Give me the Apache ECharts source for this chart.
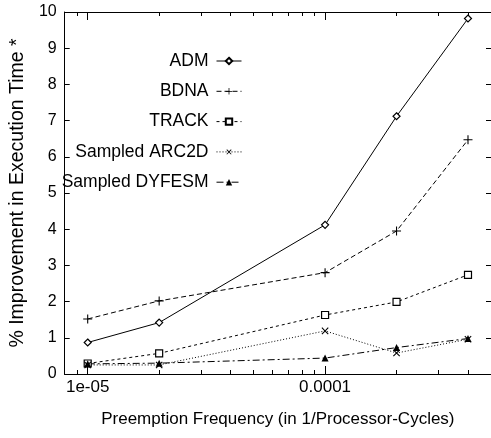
<!DOCTYPE html>
<html>
<head>
<meta charset="utf-8">
<script src="https://cdn.jsdelivr.net/npm/echarts@6/dist/echarts.min.js"></script>
<style>html,body{margin:0;padding:0;background:#fff}#c{width:491px;height:438px}</style>
</head>
<body>
<div id="c"></div>
<script>
const xValues = [1e-5, 2e-5, 1e-4, 2e-4, 4e-4];
const seriesNames = ['ADM', 'BDNA', 'TRACK', 'Sampled ARC2D', 'Sampled DYFESM'];
const admValues = [0.87, 1.42, 4.12, 7.12, 9.82];
const bdnaValues = [1.52, 2.02, 2.80, 3.95, 6.47];
const trackValues = [0.29, 0.57, 1.63, 1.99, 2.74];
const arc2dValues = [0.25, 0.25, 1.19, 0.58, 0.96];
const dyfesmValues = [0.28, 0.30, 0.44, 0.73, 0.98];
const xMajorTicks = [1e-5, 1e-4];
const xTickLabels = ['1e-05', '0.0001'];
const xMinorTicks = [9e-6, 2e-5, 3e-5, 4e-5, 5e-5, 6e-5, 7e-5, 8e-5, 9e-5, 2e-4, 3e-4, 4e-4, 5e-4];
const yTicks = [0, 1, 2, 3, 4, 5, 6, 7, 8, 9, 10];

const FONT = "'Liberation Sans', Arial, Helvetica, sans-serif";
const plusPath = 'path://M4.4,0h1.2v4.4h4.4v1.2h-4.4v4.4h-1.2v-4.4h-4.4v-1.2h4.4z';

function pairs(vals) { return xValues.map((x, i) => [x, vals[i]]); }

const chart = echarts.init(document.getElementById('c'), null, {renderer: 'canvas'});

function xAxisDef(pos, ticks, len, labels) {
  return {
    type: 'log', logBase: 10, position: pos,
    min: 8e-6, max: 5e-4,
    axisLine: {show: true, onZero: false, lineStyle: {color: '#000', width: 1}},
    axisTick: {show: true, inside: true, length: len, customValues: ticks, lineStyle: {color: '#000', width: 1}},
    axisLabel: labels ? {
      show: true, customValues: xMajorTicks, margin: 5, color: '#000', fontSize: 17, fontFamily: FONT,
      formatter: v => { const i = xMajorTicks.findIndex(t => Math.abs(t - v) / t < 1e-6); return i >= 0 ? xTickLabels[i] : ''; }
    } : {show: false},
    splitLine: {show: false},
    minorTick: {show: false},
    name: labels ? 'Preemption Frequency (in 1/Processor-Cycles)' : '',
    nameLocation: 'middle', nameGap: 37,
    nameTextStyle: {color: '#000', fontSize: 17, fontFamily: FONT}
  };
}

function yAxisDef(pos, labels) {
  return {
    type: 'value', position: pos, min: 0, max: 10, interval: 1,
    axisLine: {show: true, onZero: false, lineStyle: {color: '#000', width: 1}},
    axisTick: {show: true, inside: true, length: 5, lineStyle: {color: '#000', width: 1}},
    axisLabel: labels ? {show: true, margin: 8, color: '#000', fontSize: 16, fontFamily: FONT,
      formatter: v => String(yTicks[yTicks.indexOf(v)])} : {show: false},
    splitLine: {show: false},
    name: labels ? '% Improvement in Execution Time *' : '',
    nameLocation: 'middle', nameRotate: 90, nameGap: 21,
    nameTextStyle: {color: '#000', fontSize: 19.5, fontFamily: FONT}
  };
}

const styles = [
  {symbol: 'diamond', size: 7, fill: '#fff', dash: 'solid'},
  {symbol: plusPath, size: 9, fill: '#000', dash: [5, 3]},
  {symbol: 'rect', size: 7, fill: '#fff', dash: [3, 3]},
  {symbol: plusPath, size: 9, fill: '#000', dash: [1, 2], rotate: 45},
  {symbol: 'triangle', size: 7, fill: '#000', dash: [7, 3, 2, 3]}
];
const allValues = [admValues, bdnaValues, trackValues, arc2dValues, dyfesmValues];

chart.setOption({
  animation: false,
  backgroundColor: '#fff',
  grid: {left: 58, top: 12, right: -4, bottom: 64, containLabel: false},
  legend: {
    orient: 'vertical', align: 'right', right: 244, top: 47,
    itemWidth: 25, itemHeight: 8, itemGap: 12.3,
    lineStyle: {width: 1},
    textStyle: {color: '#000', fontSize: 17.5, fontFamily: FONT, lineHeight: 18, padding: [0, 3, 0, 0]},
    data: seriesNames
  },
  xAxis: [
    xAxisDef('bottom', xMajorTicks, 8, true),
    xAxisDef('bottom', xMinorTicks, 4, false),
    xAxisDef('top', xMajorTicks, 8, false),
    xAxisDef('top', xMinorTicks, 4, false)
  ],
  yAxis: [yAxisDef('left', true), yAxisDef('right', false)],
  series: seriesNames.map((name, i) => ({
    name: name, type: 'line', xAxisIndex: 0, yAxisIndex: 0,
    data: pairs(allValues[i]),
    symbol: styles[i].symbol, symbolSize: styles[i].size, symbolRotate: styles[i].rotate || 0,
    showSymbol: true,
    lineStyle: {color: '#000', width: 1, type: styles[i].dash},
    itemStyle: {color: styles[i].fill, borderColor: '#000', borderWidth: styles[i].fill === '#fff' ? 1.2 : 0},
    emphasis: {disabled: true}
  }))
});
</script>
</body>
</html>
